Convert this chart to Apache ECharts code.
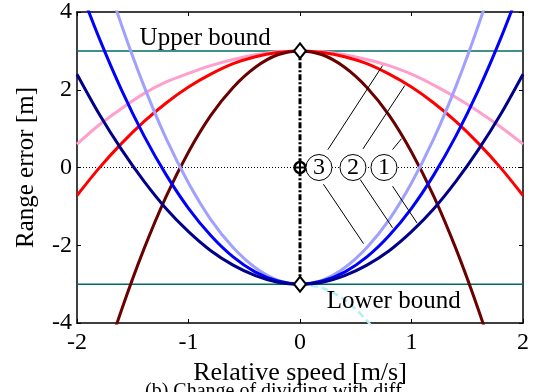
<!DOCTYPE html>
<html>
<head>
<meta charset="utf-8">
<script src="https://cdn.jsdelivr.net/npm/echarts@6/dist/echarts.min.js"></script>
<style>
  html, body { margin: 0; padding: 0; background: #fff; }
  #chart { width: 533px; height: 392px; }
</style>
</head>
<body>
<div id="chart"></div>
<script>
// relatieve snelheid [m/s]
const speeds = [-2, -1.8, -1.6, -1.4, -1.2, -1, -0.8, -0.6, -0.4, -0.2, 0, 0.2, 0.4, 0.6, 0.8, 1, 1.2, 1.4, 1.6, 1.8, 2];

const pinkErr   = [0.6, 1.1, 1.52, 1.9, 2.2, 2.42, 2.62, 2.78, 2.9, 2.98, 3, 2.98, 2.9, 2.78, 2.62, 2.4, 2.12, 1.8, 1.44, 1.04, 0.6];
const redErr    = [-0.72, -0.01, 0.62, 1.18, 1.66, 2.07, 2.4, 2.67, 2.85, 2.96, 3, 2.96, 2.85, 2.67, 2.4, 2.07, 1.66, 1.18, 0.62, -0.01, -0.72];
const maroonErr = [-7.4, -5.42, -3.66, -2.1, -0.74, 0.4, 1.34, 2.06, 2.58, 2.9, 3, 2.9, 2.58, 2.06, 1.34, 0.4, -0.74, -2.1, -3.66, -5.42, -7.4];

// onderste curves
const lightBlueErr = [7.4, 5.42, 3.66, 2.1, 0.74, -0.4, -1.34, -2.06, -2.58, -2.9, -3, -2.9, -2.58, -2.06, -1.34, -0.4, 0.74, 2.1, 3.66, 5.42, 7.4];
const blueErr      = [4.8, 3.32, 1.99, 0.82, -0.19, -1.05, -1.75, -2.3, -2.69, -2.92, -3, -2.92, -2.69, -2.3, -1.75, -1.05, -0.19, 0.82, 1.99, 3.32, 4.8];
const navyErr      = [2.4, 1.37, 0.46, -0.35, -1.06, -1.65, -2.14, -2.51, -2.78, -2.95, -3, -2.95, -2.78, -2.51, -2.14, -1.65, -1.06, -0.35, 0.46, 1.37, 2.4];

// lichtcyaan gestreept stukje
const cyanSpeeds = [0, 0.2, 0.4, 0.6, 0.8];
const cyanErr    = [-3, -3.1, -3.4, -3.94, -4.66];

const upperBound = 3;
const lowerBound = -3;

// genummerde labels + wijslijnen
const circleLabels = ['3', '2', '1'];
const circleSpeeds = [0.17, 0.475, 0.753];
const leaders = [
  [[0.25, 0.46], [0.74, 2.62]],
  [[0.565, 0.48], [0.94, 2.11]],
  [[0.83, 0.46], [0.91, 0.74]],
  [[0.21, -0.43], [0.57, -1.96]],
  [[0.54, -0.31], [0.83, -1.55]],
  [[0.83, -0.48], [1.05, -1.43]]
];

const xTicks = [-2, -1, 0, 1, 2];
const yTicks = [-4, -2, 0, 2, 4];

const font = '"Liberation Serif", "Times New Roman", serif';
const pair = (xs, ys) => xs.map((x, i) => [x, ys[i]]);

const curve = (data, color, width) => ({
  type: 'line',
  data: pair(speeds, data),
  symbol: 'none',
  smooth: 0.3,
  clip: true,
  lineStyle: { color, width },
  z: 3
});

const chart = echarts.init(document.getElementById('chart'));

const axisCommon = {
  axisLine: { show: true, onZero: false, lineStyle: { color: '#000', width: 1.5 } },
  axisTick: { show: true, inside: true, length: 4, lineStyle: { color: '#000' } },
  splitLine: { show: false }
};

const options = {
  animation: false,
  backgroundColor: '#fff',
  grid: { left: 77, right: 10, top: 9, bottom: 69 },
  xAxis: [
    {
      ...axisCommon,
      type: 'value', min: -2, max: 2, interval: 1, position: 'bottom',
      name: 'Relative speed [m/s]', nameLocation: 'middle', nameGap: 36,
      nameTextStyle: { fontFamily: font, fontSize: 26, color: '#000' },
      axisLabel: { fontFamily: font, fontSize: 24, color: '#000', margin: 8,
        formatter: v => xTicks.includes(v) ? String(v) : '' }
    },
    {
      ...axisCommon,
      type: 'value', min: -2, max: 2, interval: 1, position: 'top',
      axisLabel: { show: false }
    }
  ],
  yAxis: [
    {
      ...axisCommon,
      type: 'value', min: -4, max: 4, interval: 2, position: 'left',
      name: 'Range error [m]', nameLocation: 'middle', nameGap: 38,
      nameTextStyle: { fontFamily: font, fontSize: 25, color: '#000' },
      axisLabel: { fontFamily: font, fontSize: 24, color: '#000', margin: 5,
        formatter: v => yTicks.includes(v) ? String(v) : '' }
    },
    {
      ...axisCommon,
      type: 'value', min: -4, max: 4, interval: 2, position: 'right',
      axisLabel: { show: false }
    }
  ],
  series: [
    // nullijn (gestippeld)
    { type: 'line', data: [[-2, 0], [2, 0]], symbol: 'none',
      lineStyle: { color: '#000', width: 1, type: [1, 2] }, z: 1 },
    // grenzen
    { type: 'line', data: [[-2, upperBound], [2, upperBound]], symbol: 'none',
      lineStyle: { color: '#006a6a', width: 1.5 }, z: 2 },
    { type: 'line', data: [[-2, lowerBound], [2, lowerBound]], symbol: 'none',
      lineStyle: { color: '#006a6a', width: 1.5 }, z: 2 },
    { type: 'line', data: pair(cyanSpeeds, cyanErr), symbol: 'none', smooth: 0.3, clip: true,
      lineStyle: { color: '#aef0f4', width: 2.5, type: [7, 4] }, z: 2 },
    curve(pinkErr, '#ff9fcc', 3),
    curve(redErr, '#ff0000', 3),
    curve(maroonErr, '#6a0000', 3),
    curve(lightBlueErr, '#a0a0ff', 3),
    curve(blueErr, '#0000ff', 3),
    curve(navyErr, '#00008a', 3),
    // verticale streep-stippellijn
    { type: 'line', data: [[0, lowerBound], [0, upperBound]], symbol: 'none',
      lineStyle: { color: '#000', width: 3, type: [6, 2, 2, 2] }, z: 5 },
    // wijslijnen
    ...leaders.map(seg => ({
      type: 'line', data: seg, symbol: 'none',
      lineStyle: { color: '#000', width: 1 }, z: 6
    })),
    // ruitmarkers
    { type: 'scatter', data: [[0, upperBound], [0, lowerBound]], symbol: 'diamond',
      symbolSize: [12, 15],
      itemStyle: { color: '#fff', borderColor: '#000', borderWidth: 2, opacity: 1 }, z: 7 },
    // cirkel met plus
    { type: 'scatter', data: [[0, 0]], symbol: 'circle', symbolSize: 11,
      itemStyle: { color: '#fff', borderColor: '#000', borderWidth: 2.5, opacity: 1 }, z: 7 },
    { type: 'scatter', data: [[0, 0]], symbol: 'path://M0,-5L0,5M-5,0L5,0', symbolSize: 11,
      itemStyle: { color: 'none', borderColor: '#000', borderWidth: 2, opacity: 1 }, z: 8 },
    // genummerde cirkels
    { type: 'scatter', data: circleSpeeds.map((x, i) => ({ value: [x, 0], name: circleLabels[i] })),
      symbol: 'circle', symbolSize: 26,
      itemStyle: { color: '#fff', borderColor: '#000', borderWidth: 1, opacity: 1 },
      label: { show: true, position: 'inside', formatter: p => p.name,
        fontFamily: font, fontSize: 24, color: '#000' }, z: 8 },
    // teksten
    { type: 'scatter', data: [{ value: [-0.85, 3.31], name: 'Upper bound' }, { value: [0.84, -3.44], name: 'Lower bound' }],
      symbolSize: 0,
      itemStyle: { opacity: 1 },
      label: { show: true, position: 'inside', formatter: p => p.name,
        fontFamily: font, fontSize: 25, color: '#000' }, z: 8 }
  ],
  graphic: [
    { type: 'text', left: 145, top: 382,
      style: { text: '(b) Change of dividing with diff', font: '20px ' + font, fill: '#000' } }
  ]
};

chart.setOption(options);
window.addEventListener('resize', () => chart.resize());
</script>
</body>
</html>
